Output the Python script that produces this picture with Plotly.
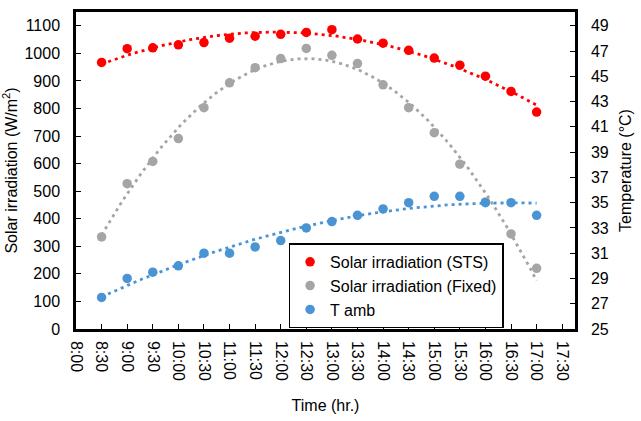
import numpy as np
import plotly.graph_objects as go

# Measurement times (decimal hours) and their axis labels
time_hr = [8.5, 9.0, 9.5, 10.0, 10.5, 11.0, 11.5, 12.0, 12.5,
           13.0, 13.5, 14.0, 14.5, 15.0, 15.5, 16.0, 16.5, 17.0]
tick_hours = [8.0, 8.5, 9.0, 9.5, 10.0, 10.5, 11.0, 11.5, 12.0, 12.5,
              13.0, 13.5, 14.0, 14.5, 15.0, 15.5, 16.0, 16.5, 17.0, 17.5]
tick_labels = ["8:00", "8:30", "9:00", "9:30", "10:00", "10:30", "11:00",
               "11:30", "12:00", "12:30", "13:00", "13:30", "14:00", "14:30",
               "15:00", "15:30", "16:00", "16:30", "17:00", "17:30"]

# Solar irradiation on the sun-tracking system and on the fixed panel (W/m2)
irr_sts = [967, 1017, 1020, 1031, 1039, 1055, 1062, 1069, 1076,
           1086, 1052, 1037, 1011, 983, 957, 917, 862, 787]
irr_fixed = [334, 527, 608, 691, 803, 893, 948, 981, 1018,
             993, 963, 886, 803, 712, 598, 461, 345, 220]
# Ambient temperature (deg C)
t_amb = [27.5, 29.0, 29.5, 30.0, 31.0, 31.0, 31.5, 32.0, 33.0,
         33.5, 34.0, 34.5, 35.0, 35.5, 35.5, 35.0, 35.0, 34.0]

RED = "#ff0000"
GRAY = "#a5a5a5"
BLUE = "#4a94d4"
FONT = "Liberation Sans, Arial, sans-serif"

y_max = 1150
t_min = 25
t_max = t_min + y_max * 24 / 1100

fig = go.Figure()


def trend(x, y, color, axis):
    # second-order polynomial trendline over the measured span
    coef = np.polyfit(x, y, 2)
    xs = np.linspace(min(x), max(x), 200)
    fig.add_trace(go.Scatter(
        x=xs, y=np.polyval(coef, xs), mode="lines", yaxis=axis,
        line=dict(color=color, width=2.8, dash="3px,4px"),
        showlegend=False, hoverinfo="skip"))


trend(time_hr, irr_sts, RED, "y")
trend(time_hr, irr_fixed, GRAY, "y")
trend(time_hr, t_amb, BLUE, "y2")

fig.add_trace(go.Scatter(x=time_hr, y=irr_sts, mode="markers",
                         name="Solar irradiation (STS)",
                         marker=dict(color=RED, size=9.5)))
fig.add_trace(go.Scatter(x=time_hr, y=irr_fixed, mode="markers",
                         name="Solar irradiation (Fixed)",
                         marker=dict(color=GRAY, size=9.5)))
fig.add_trace(go.Scatter(x=time_hr, y=t_amb, mode="markers", yaxis="y2",
                         name="T amb",
                         marker=dict(color=BLUE, size=9.5)))

axis_common = dict(showgrid=False, zeroline=False, showline=True,
                   linecolor="black", linewidth=2.5, ticks="inside",
                   ticklen=5, tickwidth=1, tickcolor="black",
                   tickfont=dict(size=16, color="black", family=FONT))

fig.update_layout(
    width=641, height=421,
    margin=dict(l=75, r=62, t=9, b=90),
    paper_bgcolor="white", plot_bgcolor="white",
    font=dict(family=FONT, size=16, color="black"),
    xaxis=dict(range=[8.0, 17.75], tickmode="array", tickvals=tick_hours,
               ticktext=tick_labels, tickangle=90, mirror=True,
               ticklabelstandoff=6,
               title=dict(text="Time (hr.)", font=dict(size=16), standoff=20),
               **axis_common),
    yaxis=dict(range=[0, y_max], tickmode="linear", tick0=0, dtick=100,
               mirror=True, ticklabelstandoff=10,
               title=dict(text="Solar irradiation (W/m<sup>2</sup>)",
                          font=dict(size=16), standoff=4),
               **axis_common),
    yaxis2=dict(range=[t_min, t_max], tickmode="linear", tick0=25, dtick=2,
                overlaying="y", side="right", ticklabelstandoff=10,
                title=dict(text="Temperature (°C)", font=dict(size=16),
                           standoff=12),
                **axis_common),
    legend=dict(x=0.426, y=0.27, xanchor="left", yanchor="top",
                bgcolor="white", bordercolor="black", borderwidth=1.5,
                font=dict(size=16, color="black", family=FONT),
                itemwidth=30, tracegroupgap=0),
    showlegend=True,
)

fig.write_html("out.html")
